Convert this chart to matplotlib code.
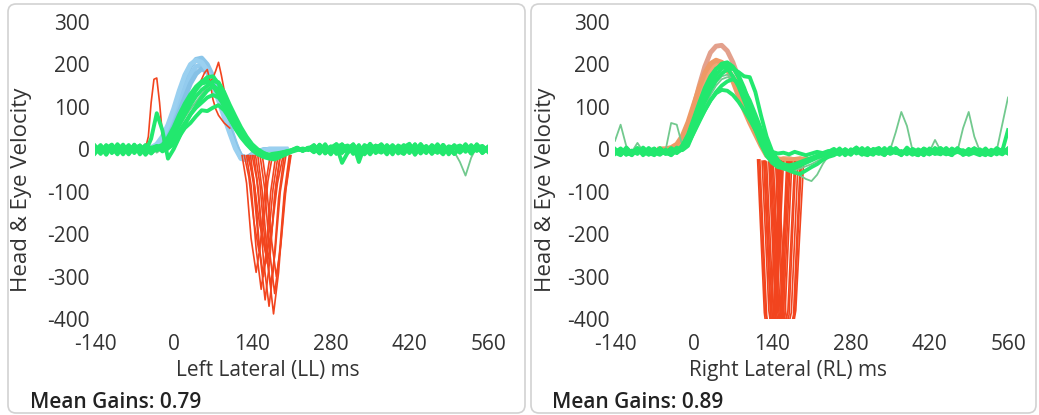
import matplotlib
matplotlib.use('Agg')
import matplotlib.pyplot as plt
from matplotlib.patches import FancyBboxPatch

plt.rcParams['font.family'] = ['Open Sans', 'DejaVu Sans']
plt.rcParams['axes.unicode_minus'] = False

# ---------------- data ----------------
T_FULL = list(range(-140, 561, 10))          # eye traces, ms
T_HEAD = list(range(-60, 201, 10))           # head traces, ms
X_TICKS = [-140, 0, 140, 280, 420, 560]
Y_TICKS = [-400, -300, -200, -100, 0, 100, 200, 300]

# Left lateral: head velocity (blue)
LL_HEAD = [
    [0, 0, 2, 8, 22, 48, 85, 125, 165, 195, 212, 215, 200, 172, 135, 95, 55, 15, -20, -25, -15, -6, -2, 0, 0, 0, 0],
    [0, 0, 0, 4, 14, 35, 68, 105, 142, 175, 195, 200, 188, 160, 125, 88, 50, 12, -18, -22, -12, -5, -2, 0, 0, 0, 0],
    [0, 0, 0, 3, 12, 28, 55, 88, 122, 155, 178, 190, 182, 158, 122, 85, 45, 8, -15, -20, -12, -5, -1, 0, 0, 0, 0],
    [0, 1, 4, 12, 30, 58, 95, 138, 175, 200, 210, 205, 185, 152, 115, 76, 38, 2, -22, -24, -14, -6, -2, 0, 0, 0, 0],
]
# Left lateral: eye velocity (green), bright traces
LL_EYE = [
    [8, -6, 10, -9, 5, -12, 7, -4, 9, -8, 4, -2,
     5, 18, 40, 65, 92, 118, 140, 158, 170, 172, 155, 122, 88, 60, 38, 20, 5, -5, -10, -12, -10, -8, -5, -2, 3, -2, 2,
     9, -5, 12, -10, 6, 11, -8, 4, -12, 10, 2, -7, 12, -4, 8, -10, 5, 13, -6, 3, -9, 10, 0, -12, 7, 4, -6, 11, -2, 6, -8, 3],
    [-10, 6, -13, 9, -4, 8, -7, 11, -12, 4, -9, 6,
     10, 28, 52, 82, 108, 130, 148, 160, 162, 150, 128, 100, 72, 48, 28, 12, -2, -12, -18, -20, -16, -10, -6, -3, 2, -3, 3,
     -6, 10, -9, 4, 12, -7, 8, -11, 6, -4, 13, -9, 3, -12, 8, 0, -7, 10, -13, 6, 4, -9, 12, -5, 6, -11, 8, 2, -7, 10, -4, 5],
    [4, -11, 8, -6, 12, -4, 10, -9, 6, -13, 3, 8,
     -5, 2, 12, 30, 50, 62, 78, 92, 90, 98, 104, 92, 72, 52, 35, 18, 4, -8, -18, -22, -24, -18, -12, -6, -2, 2, -2,
     10, -6, 4, -12, 8, -32, -8, 12, -30, 7, -9, 4, 11, -6, 8, -4, -11, 6, -8, 12, -4, 8, -6, 10, -12, 4, 9, -6, 10, -4, 6, 0],
    [-6, 8, -4, 10, -8, 6, -10, 4, 8, -6, 25, 85,
     45, -22, 0, 28, 58, 82, 102, 122, 138, 148, 142, 118, 90, 64, 42, 24, 8, -4, -12, -16, -20, -15, -10, -5, 0, -3, 4,
     -4, 8, -10, 6, -6, 12, -4, 10, -8, 4, -12, 8, 6, -4, 10, -8, 4, -6, 12, -10, 6, 0, -8, 10, -4, 8, -6, 12, -10, 4, 8, -6],
    [-3, 10, -8, 4, -12, 8, -6, 10, -4, 6, -10, 4,
     4, 16, 35, 58, 82, 105, 125, 140, 150, 160, 158, 135, 105, 78, 52, 30, 12, 0, -8, -14, -18, -14, -9, -4, 2, -3, 1,
     4, -10, 8, -6, 12, -4, 6, -8, 10, -12, 4, 8, -6, 10, -4, 6, -10, 8, -4, 12, -6, 4, -8, 10, -6, 8, -4, 6, -10, 12, -4, 6],
    [6, -9, 3, 11, -7, 5, -12, 8, -3, 10, -6, 2,
     3, 22, 46, 72, 98, 122, 142, 155, 158, 152, 136, 108, 78, 54, 32, 14, 0, -8, -14, -18, -14, -10, -6, -2, 4, -4, 3,
     -7, 11, -3, 7, -11, 5, 9, -5, 3, -10, 12, -2, -8, 6, -12, 9, 2, -6, 11, -9, 4, -3, 10, -7, 5, -11, 2, 8, -5, 10, -9, 4],
    [-8, 5, -11, 7, -3, 11, -9, 3, -6, 9, -4, 7,
     0, 8, 22, 42, 62, 82, 98, 110, 122, 128, 122, 105, 82, 60, 40, 22, 6, -6, -14, -18, -20, -16, -10, -4, 2, -2, 3,
     5, -9, 8, -3, 10, -8, 3, 11, -6, 7, -10, 4, 9, -7, 5, -3, 10, -9, 6, -2, 8, -11, 3, 7, -5, 10, -8, 4, -3, 9, -7, 2],
]
# Left lateral: muted outlier eye trace (dip near 520 ms)
LL_EYE_OUT = [
    [12, -4, 6, -10, 4, -8, 10, -6, 12, -4, 6, -8,
     2, 12, 30, 52, 75, 95, 112, 130, 145, 152, 140, 112, 82, 58, 36, 15, -2, -10, -14, -18, -22, -18, -12, -6, 3, -2, 2,
     6, -8, 10, -4, 8, -12, 4, 10, -6, 8, -4, 12, -8, 6, -10, 4, 8, -6, 10, -4, 6, -8, 12, -10, 4, -6, -30, -62, -20, 6, -4, 8],
]
# Left lateral: saccades (red), (times, values)
LL_SACC_T = [
    [-60, -50, -45, -40, -35, -30, -25, -20, -15, -10],
    [40, 50, 55, 60, 65, 70, 75, 80, 90, 100],
    [55, 60, 65, 70, 75, 80, 85, 90, 100],
    [122, 130, 138, 147, 155, 163, 172],
    [126, 134, 143, 152, 160, 168, 176],
    [130, 138, 147, 156, 164, 173, 182],
    [134, 142, 151, 160, 168, 177, 186],
    [137, 145, 154, 163, 171, 180, 190],
    [140, 148, 157, 167, 174, 182, 190],
    [143, 151, 160, 170, 178, 187, 197],
    [146, 154, 163, 173, 181, 190, 200],
    [150, 158, 168, 178, 187, 197, 208],
    [154, 162, 171, 180, 188, 197, 206],
    [158, 165, 174, 183, 191, 200, 209],
    [132, 142, 153, 165, 175, 185, 195],
]
LL_SACC_V = [
    [0, 2, 30, 110, 165, 168, 110, 35, 3, 0],
    [140, 165, 180, 188, 160, 118, 95, 80, 62, 50],
    [140, 150, 158, 168, 185, 205, 175, 140, 95],
    [-15, -80, -210, -290, -220, -90, -15],
    [-15, -65, -170, -240, -180, -75, -15],
    [-15, -85, -235, -330, -250, -100, -15],
    [-15, -80, -215, -300, -225, -95, -15],
    [-15, -95, -250, -355, -265, -110, -15],
    [-15, -70, -190, -270, -205, -85, -15],
    [-15, -95, -260, -370, -280, -115, -15],
    [-15, -85, -225, -320, -240, -100, -15],
    [-15, -100, -270, -388, -290, -120, -15],
    [-15, -90, -240, -340, -255, -105, -15],
    [-15, -80, -210, -300, -225, -95, -15],
    [-15, -65, -175, -250, -190, -80, -15],
]

# Right lateral: head velocity (orange)
RL_HEAD = [
    [0, 0, 2, 8, 25, 55, 100, 150, 195, 228, 243, 245, 232, 205, 168, 125, 90, 55, 20, -10, -22, -25, -24, -22, -25, -28, -25],
    [0, 0, 1, 6, 22, 50, 90, 132, 168, 192, 204, 205, 192, 168, 135, 100, 70, 45, 15, -12, -24, -26, -22, -24, -28, -25, -22],
    [0, 0, 0, 4, 16, 40, 78, 118, 155, 182, 197, 200, 190, 168, 138, 105, 75, 48, 18, -10, -20, -24, -26, -23, -25, -27, -24],
    [0, 1, 4, 12, 32, 64, 105, 145, 180, 202, 210, 205, 188, 160, 125, 92, 62, 35, 8, -15, -25, -22, -25, -27, -24, -22, -26],
]
# Right lateral: eye velocity (green), bright traces
RL_EYE = [
    [-3, -12, 4, -10, 2, -14, -1, -11, 3, -9, -13, -2,
     5, 22, 55, 92, 130, 162, 188, 202, 205, 195, 175, 145, 108, 70, 35, 5, -18, -30, -35, -38, -35, -30, -25, -20, -15, -12, -8,
     -12, -2, -14, 0, -10, 3, -8, -13, 2, -9, 4, -6, -12, 1, -8, -14, 0, -10, 3, -7, -12, 2, -6, -11, 1, -9, -14, 0, -10, 3, -6, -9],
    [-10, 2, -13, -3, -11, 4, -8, -14, 0, -10, 3, -6,
     10, 35, 72, 110, 145, 172, 190, 196, 190, 172, 148, 115, 80, 45, 12, -15, -32, -42, -45, -48, -44, -38, -32, -26, -20, -15, -10,
     -9, 2, -12, -5, 4, -10, -14, -2, 3, -11, -6, 1, -13, 4, -9, -4, -14, 2, -8, -12, 0, -10, 3, -13, -5, 2, -9, -14, -1, -7, -12, 1],
    [1, -11, -4, -14, 0, -9, 3, -8, -13, -1, -10, 4,
     -2, 8, 40, 68, 92, 115, 135, 150, 160, 165, 158, 140, 115, 82, 48, 15, -12, -28, -40, -50, -55, -58, -50, -42, -35, -25, -18,
     -14, -6, -1, -12, 2, -9, 3, -11, -4, -13, 1, -8, -12, 0, -9, -14, 2, -5, -11, -7, 3, -10, -2, -13, -8, 2, -11, -4, -9, 0, -3, 45],
    [-8, -14, -1, -10, 3, -12, -5, 2, -11, -7, 1, -9,
     4, 20, 48, 80, 112, 140, 162, 178, 188, 190, 182, 172, 170, 135, 80, 30, -5, -25, -38, -42, -40, -36, -30, -24, -18, -12, -8,
     -3, -13, 0, -10, 4, -7, -12, 1, -9, 3, -11, -5, -14, 2, -8, -10, 1, -12, -4, 3, -9, -13, 0, -6, -12, 2, -5, -9, -14, 0, -8, 2],
    [-11, 0, -9, -13, 2, -7, -12, 1, -10, -4, -14, -1,
     2, 15, 50, 85, 120, 150, 175, 190, 198, 192, 170, 138, 100, 62, 28, -2, -22, -35, -40, -42, -40, -34, -28, -22, -16, -10, -6,
     1, -10, -5, -13, 2, -8, -11, -1, -7, -14, 3, -9, -4, -12, 1, -6, -13, -2, -10, 2, -8, -14, 1, -5, -11, -3, -9, 2, -12, -6, 0, -10],
    [-6, 1, -12, -4, -9, 2, -13, -5, -1, -11, -3, -8,
     0, 12, 38, 65, 92, 115, 132, 140, 138, 128, 112, 92, 70, 46, 22, 4, -6, -10, -8, -12, -6, -10, -14, -10, -6, -9, -4,
     -7, -12, 0, -9, -4, -13, 1, -6, -11, -2, -8, 3, -10, -5, -13, 0, -7, -12, -3, -9, 1, -11, -6, -2, -13, -8, 0, -10, -5, -12, -2, -7],
]
# Right lateral: muted outlier eye traces
RL_EYE_OUT = [
    [20, 58, 8, -6, 15, -5, -8, -3, -6, -3, 62, 58,
     8, 18, 45, 78, 108, 135, 158, 172, 176, 168, 150, 122, 90, 55, 22, -8, -28, -40, -48, -52, -50, -45, -40, -35, -28, -20, -14,
     -9, -5, -8, -3, -6, -2, -7, -4, -1, -6, -8, -3, -5, -7, -2, -4, -8, -6, 22, -3, -7, -2, -5, -8, -4, -1, -6, -3, -7, -5, -2, -6],
    [-4, -7, -1, -6, -3, -3, -8, -2, -5, -7, -3, -6,
     2, 15, 38, 65, 98, 128, 150, 165, 170, 165, 152, 130, 100, 65, 30, 0, -22, -35, -42, -48, -55, -62, -70, -75, -60, -35, -15,
     -8, -4, -7, -3, -6, -2, -5, -8, -4, -6, -2, 40, 88, 55, -3, -6, -2, -5, -4, -7, -3, -6, -4, 50, 88, 30, -5, -3, -6, -2, 60, 122],
]
# Right lateral: saccades (red)
RL_SACC_T = [
    [114, 120, 126, 132, 138, 144, 150],
    [118, 124, 130, 137, 144, 150, 156],
    [122, 128, 134, 141, 148, 154, 160],
    [126, 132, 138, 146, 154, 160, 166],
    [130, 136, 142, 150, 158, 164, 170],
    [134, 140, 146, 154, 163, 169, 175],
    [138, 144, 150, 159, 168, 174, 180],
    [142, 148, 154, 164, 174, 180, 186],
    [146, 152, 158, 168, 178, 184, 190],
    [150, 157, 164, 173, 182, 189, 196],
    [125, 131, 137, 142, 147, 152, 158],
    [136, 142, 148, 154, 160, 166, 172],
    [116, 122, 128, 135, 142, 148, 154],
    [128, 134, 140, 148, 156, 162, 168],
    [140, 146, 152, 161, 170, 176, 182],
    [148, 154, 160, 170, 180, 186, 192],
]
RL_SACC_V = [
    [-25, -205, -385, -450, -380, -200, -25],
    [-25, -210, -390, -460, -385, -195, -28],
    [-28, -200, -380, -445, -375, -205, -30],
    [-28, -215, -395, -455, -390, -210, -30],
    [-30, -200, -385, -450, -380, -200, -30],
    [-30, -205, -390, -460, -385, -205, -30],
    [-30, -210, -385, -450, -380, -200, -30],
    [-30, -200, -380, -445, -385, -210, -30],
    [-30, -205, -390, -455, -390, -205, -30],
    [-30, -200, -385, -450, -380, -200, -28],
    [-28, -210, -390, -455, -385, -200, -30],
    [-30, -205, -385, -450, -390, -210, -30],
    [-25, -200, -385, -450, -385, -205, -28],
    [-28, -210, -390, -455, -380, -200, -30],
    [-30, -205, -385, -450, -390, -205, -30],
    [-30, -200, -380, -445, -385, -200, -30],
]

PANELS = [
    dict(head=LL_HEAD, eye=LL_EYE, eye_out=LL_EYE_OUT, st=LL_SACC_T, sv=LL_SACC_V,
         head_colors=['#8cc6ea', '#93cbee', '#86c1e6', '#9ad0f0'],
         xlabel='Left Lateral (LL) ms', gain='Mean Gains: 0.79'),
    dict(head=RL_HEAD, eye=RL_EYE, eye_out=RL_EYE_OUT, st=RL_SACC_T, sv=RL_SACC_V,
         head_colors=['#e3a08c', '#f2a06c', '#f0a676', '#ee9a66'],
         xlabel='Right Lateral (RL) ms', gain='Mean Gains: 0.89'),
]

# ---------------- layout (pixels) ----------------
W, H = 1039, 415
fig = plt.figure(figsize=(W / 100, H / 100), dpi=100)
bg = fig.add_axes([0, 0, 1, 1])
bg.set_xlim(0, W)
bg.set_ylim(H, 0)
bg.axis('off')

BOXES = [(8, 525), (531, 1036)]
AX_X = [(95, 488), (615, 1008)]
XLAB_X = [268, 788]
YLAB_X = [22, 545]
GAIN_X = [30, 552]

GREEN = '#22e86e'
MUTED = '#72c98e'
RED = '#f2441e'
TXT = '#333333'

for i, p in enumerate(PANELS):
    x0, x1 = BOXES[i]
    bg.add_patch(FancyBboxPatch((x0, 4), x1 - x0, 409,
                                boxstyle='round,pad=0,rounding_size=8',
                                fc='white', ec='#d2d2d2', lw=1.2))
    l, r = AX_X[i]
    ax = fig.add_axes([l / W, 1 - 319 / H, (r - l) / W, (319 - 22) / H])
    ax.patch.set_alpha(0)
    for h, c in zip(p['head'], p['head_colors']):
        ax.plot(T_HEAD, h, color=c, lw=3.5, zorder=1, solid_joinstyle='round')
    for t, v in zip(p['st'], p['sv']):
        ax.plot(t, v, color=RED, lw=1.2, zorder=2)
    for e in p['eye_out']:
        ax.plot(T_FULL, e, color=MUTED, lw=1.3, zorder=3)
    for e in p['eye']:
        ax.plot(T_FULL, e, color=GREEN, lw=2.8, zorder=4, solid_joinstyle='round')
    ax.set_xlim(-140, 560)
    ax.set_ylim(-400, 300)
    ax.set_xticks(X_TICKS)
    ax.set_yticks(Y_TICKS)
    ax.tick_params(length=0, labelsize=15, colors=TXT)
    ax.tick_params(axis='x', pad=11)
    ax.tick_params(axis='y', pad=4)
    for s in ax.spines.values():
        s.set_visible(False)
    fig.text(XLAB_X[i] / W, 1 - 370 / H, p['xlabel'], ha='center', va='center',
             fontsize=15, color=TXT)
    fig.text(YLAB_X[i] / W, 1 - 190 / H, 'Head & Eye Velocity', rotation=90,
             ha='center', va='center', fontsize=16, color=TXT)
    fig.text(GAIN_X[i] / W, 1 - 402 / H, p['gain'], ha='left', va='center',
             fontsize=15, fontweight='semibold', color='#222222')

fig.savefig('out.png', dpi=100)
